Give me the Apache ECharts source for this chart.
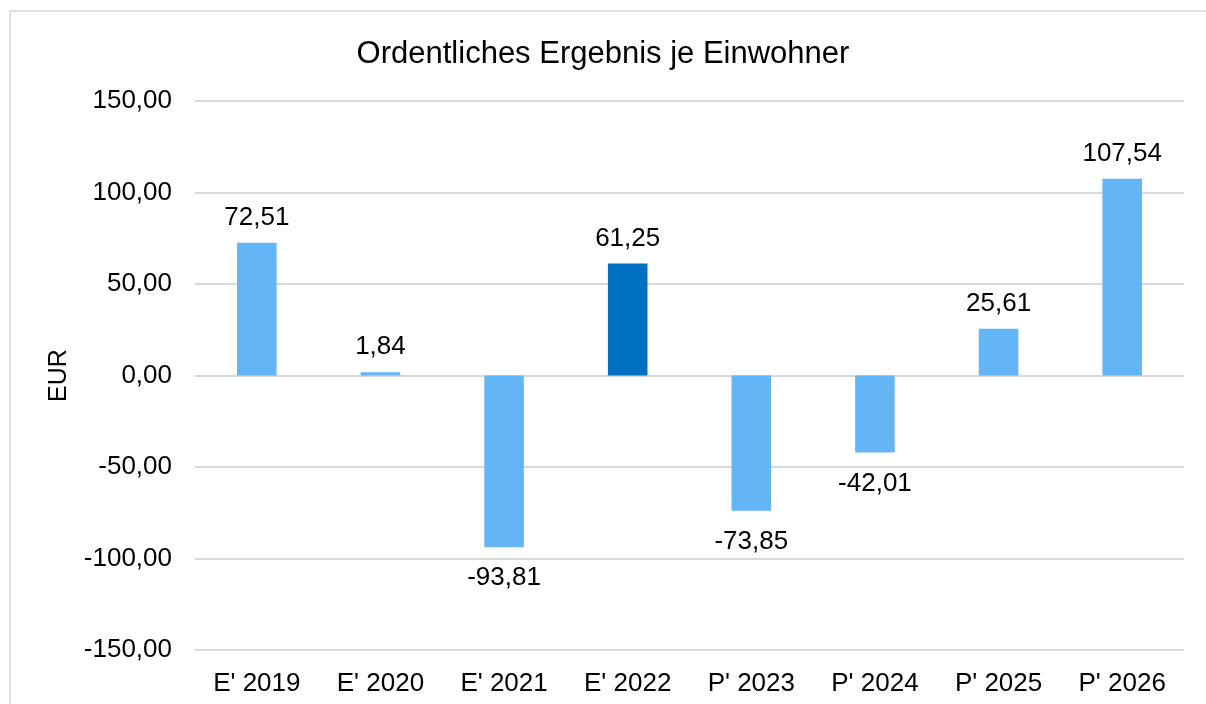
<!DOCTYPE html>
<html>
<head>
<meta charset="utf-8">
<title>Ordentliches Ergebnis je Einwohner</title>
<script src="https://cdn.jsdelivr.net/npm/echarts@6/dist/echarts.min.js"></script>
<style>
  html, body { margin: 0; padding: 0; background: #fff; }
  #chart { width: 1206px; height: 704px; }
</style>
</head>
<body>
<div id="chart"></div>
<script>
// Werte aus dem Diagramm
const categories = ["E' 2019", "E' 2020", "E' 2021", "E' 2022", "P' 2023", "P' 2024", "P' 2025", "P' 2026"]
const values = [72.51, 1.84, -93.81, 61.25, -73.85, -42.01, 25.61, 107.54]
const yTicks = [-150, -100, -50, 0, 50, 100, 150]
const highlightCategory = "E' 2022"

const FONT = "'Liberation Sans', Arial, sans-serif"
const LIGHT = '#64B5F6'
const DARK = '#0070C0'

const fmt = (v) => v.toFixed(2).replace('.', ',')

const chart = echarts.init(document.getElementById('chart'))

const option = {
  backgroundColor: '#fff',
  textStyle: { fontFamily: FONT },
  animation: false,
  title: {
    text: 'Ordentliches Ergebnis je Einwohner',
    left: 'center',
    top: 34,
    textStyle: { fontFamily: FONT, fontSize: 31, fontWeight: 'normal', color: '#000' }
  },
  graphic: [{
    type: 'rect',
    shape: { x: 10, y: 11, width: 1300, height: 800 },
    style: { fill: 'none', stroke: '#d9d9d9', lineWidth: 1.5 },
    silent: true
  }],
  grid: { left: 195, right: 22, top: 101, bottom: 54 },
  xAxis: {
    type: 'category',
    data: categories,
    axisLine: { show: false },
    axisTick: { show: false },
    axisLabel: { fontFamily: FONT, fontSize: 26, color: '#000', margin: 21 }
  },
  yAxis: {
    type: 'value',
    min: yTicks[0],
    max: yTicks[yTicks.length - 1],
    interval: 50,
    name: 'EUR',
    nameLocation: 'middle',
    nameGap: 123,
    nameTextStyle: { fontFamily: FONT, fontSize: 25, color: '#000' },
    axisLine: { show: false },
    axisTick: { show: false },
    axisLabel: { fontFamily: FONT, fontSize: 26, color: '#000', margin: 23, formatter: fmt },
    splitLine: { lineStyle: { color: '#d9d9d9', width: 2 } }
  },
  series: [{
    type: 'bar',
    barWidth: '32%',
    data: values.map(v => ({
      value: v,
      label: v >= 0 ? { position: 'top', distance: 12 } : { position: 'bottom', distance: 18 }
    })),
    itemStyle: {
      color: (params) => categories[params.dataIndex] === highlightCategory ? DARK : LIGHT
    },
    label: {
      show: true,
      fontFamily: FONT,
      fontSize: 26,
      color: '#000',
      formatter: (p) => fmt(p.value)
    }
  }]
}

chart.setOption(option)
</script>
</body>
</html>
